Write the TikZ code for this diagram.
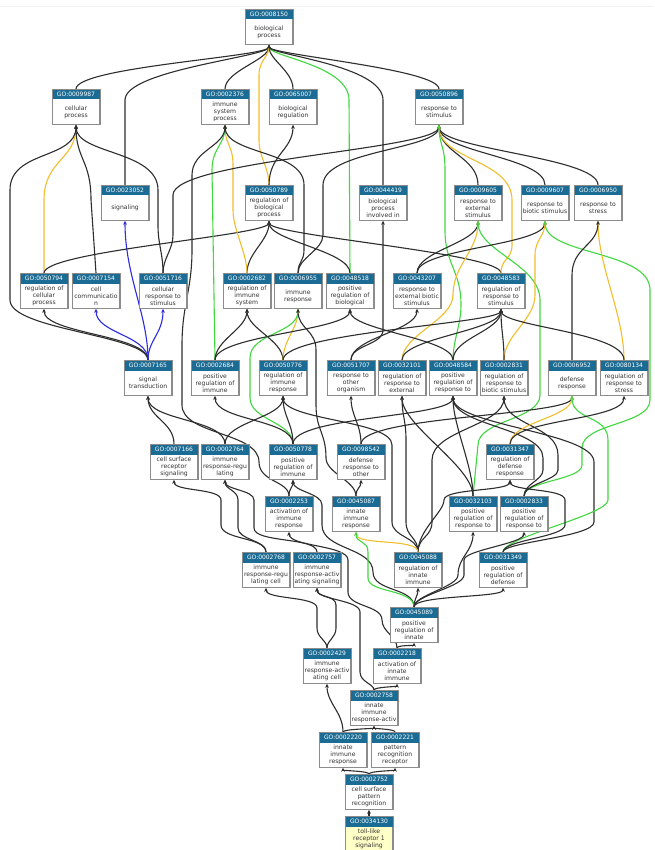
\documentclass[tikz,border=0pt]{standalone}
\usepackage{fontspec}
\newfontfamily\gofont{DejaVu Sans}
\usetikzlibrary{arrows.meta,calc}
\pgfdeclarelayer{paper}
\pgfdeclarelayer{edges}
\pgfsetlayers{paper,edges,main}
\definecolor{gohead}{HTML}{1B6C94}
\definecolor{gobord}{HTML}{8C8C8C}
\definecolor{isacol}{HTML}{2E2E2E}
\definecolor{regcol}{HTML}{F2BE2C}
\definecolor{pregcol}{HTML}{3FD83F}
\definecolor{partcol}{HTML}{2B2BE0}
\definecolor{leafcol}{HTML}{FFFFC8}
\definecolor{bodytext}{HTML}{333333}
\tikzset{
 gobox/.style={draw=gobord, line width=0.7pt, minimum width=47pt, minimum height=35pt, inner sep=0pt, anchor=north},
 gohtext/.style={text=white, font=\gofont\fontsize{6}{7}\selectfont, inner sep=0pt},
 gobtext/.style={text=bodytext, font=\gofont\fontsize{6.1}{7}\selectfont, align=center, inner sep=0pt},
 edgebase/.style={line width=1.1pt, -{Stealth[length=4pt,width=3.6pt]}},
 isa/.style={edgebase, draw=isacol},
 reg/.style={edgebase, draw=regcol},
 preg/.style={edgebase, draw=pregcol},
 partof/.style={edgebase, draw=partcol},
}
\newcommand{\gonode}[6][white]{%
 \node[gobox, fill=#1] (#2) at (#3,#4) {};
 \fill[gohead] (#2.north west) rectangle ($(#2.north east)+(0,10.5)$);
 \node[gohtext] (#2-id) at ($(#2.north)+(0,5.4)$) {#5};
 \node[gobtext] (#2-tx) at ($(#2.north)+(0,23)$) {#6};
 \draw[gobord, line width=0.7pt] (#2.north west) rectangle (#2.south east);
}
\begin{document}
\begin{tikzpicture}[x=1pt,y=-1pt]
\useasboundingbox (0,0) rectangle (654,850);
\begin{pgfonlayer}{paper}
\fill[white] (0,0) rectangle (654,850);
\draw[gray!10, line width=0.6pt] (0,6) -- (654,6);
\end{pgfonlayer}
% ---------------- nodes
\gonode{bp}{269}{9}{GO:0008150}{biological\\process}
\gonode{cp}{76}{89}{GO:0009987}{cellular\\process}
\gonode{isp}{225}{89}{GO:0002376}{immune\\system\\process}
\gonode{br}{293}{89}{GO:0065007}{biological\\regulation}
\gonode{rs}{439}{89}{GO:0050896}{response to\\stimulus}
\gonode{sig}{125}{185}{GO:0023052}{signaling}
\gonode{rbp}{269}{185}{GO:0050789}{regulation of\\biological\\process}
\gonode{bpi}{383}{185}{GO:0044419}{biological\\process\\involved in}
\gonode{res}{478}{185}{GO:0009605}{response to\\external\\stimulus}
\gonode{rbs}{545}{185}{GO:0009607}{response to\\biotic stimulus}
\gonode{rst}{598}{185}{GO:0006950}{response to\\stress}
\gonode{rcp}{44}{273}{GO:0050794}{regulation of\\cellular\\process}
\gonode{cc}{96}{273}{GO:0007154}{cell\\communicatio\\n}
\gonode{crs}{163}{273}{GO:0051716}{cellular\\response to\\stimulus}
\gonode{ris}{247}{273}{GO:0002682}{regulation of\\immune\\system}
\gonode{ir}{298}{273}{GO:0006955}{immune\\response}
\gonode{prb}{350}{273}{GO:0048518}{positive\\regulation of\\biological}
\gonode{rebs}{417}{273}{GO:0043207}{response to\\external biotic\\stimulus}
\gonode{rrs}{501}{273}{GO:0048583}{regulation of\\response to\\stimulus}
\gonode{st}{148}{360}{GO:0007165}{signal\\transduction}
\gonode{pris}{215}{360}{GO:0002684}{positive\\regulation of\\immune}
\gonode{rir}{283}{360}{GO:0050776}{regulation of\\immune\\response}
\gonode{roo}{351}{360}{GO:0051707}{response to\\other\\organism}
\gonode{rre}{402}{360}{GO:0032101}{regulation of\\response to\\external}
\gonode{prrs}{453}{360}{GO:0048584}{positive\\regulation of\\response to}
\gonode{rrbs}{504}{360}{GO:0002831}{regulation of\\response to\\biotic stimulus}
\gonode{dr}{572}{360}{GO:0006952}{defense\\response}
\gonode{rrst}{624}{360}{GO:0080134}{regulation of\\response to\\stress}
\gonode{csrs}{174}{444}{GO:0007166}{cell surface\\receptor\\signaling}
\gonode{irrs}{225}{444}{GO:0002764}{immune\\response-regu\\lating}
\gonode{pirr}{293}{444}{GO:0050778}{positive\\regulation of\\immune}
\gonode{dro}{361}{444}{GO:0098542}{defense\\response to\\other}
\gonode{rdr}{510}{444}{GO:0031347}{regulation of\\defense\\response}
\gonode{air}{289}{496}{GO:0002253}{activation of\\immune\\response}
\gonode{iir}{356}{496}{GO:0045087}{innate\\immune\\response}
\gonode{prre}{473}{496}{GO:0032103}{positive\\regulation of\\response to}
\gonode{prrbs}{524}{496}{GO:0002833}{positive\\regulation of\\response to}
\gonode{irrc}{266}{552}{GO:0002768}{immune\\response-regu\\lating cell}
\gonode{iras}{317}{552}{GO:0002757}{immune\\response-activ\\ating signaling}
\gonode{riir}{418}{552}{GO:0045088}{regulation of\\innate\\immune}
\gonode{prdr}{503}{552}{GO:0031349}{positive\\regulation of\\defense}
\gonode{priir}{414}{607}{GO:0045089}{positive\\regulation of\\innate}
\gonode{irac}{327}{648}{GO:0002429}{immune\\response-activ\\ating cell}
\gonode{aiir}{397}{648}{GO:0002218}{activation of\\innate\\immune}
\gonode{iira}{374}{690}{GO:0002758}{innate\\immune\\response-activ}
\gonode{iirtwo}{343}{732}{GO:0002220}{innate\\immune\\response}
\gonode{prr}{395}{732}{GO:0002221}{pattern\\recognition\\receptor}
\gonode{cspr}{369}{774}{GO:0002752}{cell surface\\pattern\\recognition}
\gonode[leafcol]{tlr}{369}{816}{GO:0034130}{toll-like\\receptor 1\\signaling}
% ---------------- edges
\begin{pgfonlayer}{edges}
% to bp
\draw[isa] (cp.north) .. controls +(0,-22) and +(0,12) .. (bp.south);
\draw[isa] (sig.north) -- (125,100) .. controls +(0,-30) and +(0,12) .. (bp.south);
\draw[isa] (isp.north) .. controls +(0,-18) and +(0,15) .. (bp.south);
\draw[reg] (rbp.north) .. controls +(0,-18) and +(0,18) .. (259,140) -- (259,75) .. controls +(0,-15) and +(0,12) .. (bp.south);
\draw[isa] (br.north) .. controls +(0,-18) and +(0,15) .. (bp.south);
\draw[preg] (prb.north) -- (349,100) .. controls +(0,-35) and +(0,12) .. (bp.south);
\draw[isa] (bpi.north) -- (383,100) .. controls +(0,-35) and +(0,10) .. (bp.south);
\draw[isa] (rs.north) .. controls +(0,-20) and +(0,10) .. (bp.south);
% to br
\draw[isa] (rbp.north) .. controls +(0,-30) and +(0,25) .. (br.south);
% to cp
\draw[reg] (rcp.north) -- (44,200) .. controls +(0,-40) and +(0,35) .. (cp.south);
\draw[isa] (cc.north) -- (91,200) .. controls +(0,-40) and +(0,35) .. (cp.south);
\draw[isa] (crs.north) .. controls +(0,-20) and +(0,20) .. (158,225) -- (158,190) .. controls +(0,-40) and +(0,30) .. (cp.south);
\draw[isa] (st.north) .. controls +(0,-25) and +(0,30) .. (10,300) -- (10,190) .. controls +(0,-40) and +(0,35) .. (cp.south);
% from st
\draw[partof] (st.north) .. controls +(0,-45) and +(0,55) .. (sig.south);
\draw[partof] (st.north) .. controls +(0,-25) and +(0,25) .. (cc.south);
\draw[partof] (st.north) .. controls +(0,-20) and +(0,25) .. (crs.south);
\draw[isa] (st.north) .. controls +(0,-25) and +(0,25) .. (rcp.south);
% to rbp
\draw[isa] (rcp.north) .. controls +(0,-22) and +(0,15) .. (rbp.south);
\draw[isa] (ris.north) .. controls +(0,-20) and +(0,20) .. (rbp.south);
\draw[isa] (prb.north) .. controls +(0,-22) and +(0,20) .. (rbp.south);
\draw[isa] (rrs.north) .. controls +(0,-20) and +(0,15) .. (rbp.south);
% to isp
\draw[reg] (ris.north) .. controls +(0,-20) and +(0,20) .. (233,210) -- (233,165) .. controls +(0,-20) and +(0,20) .. (isp.south);
\draw[preg] (pris.north) -- (212,170) .. controls +(0,-22) and +(0,20) .. (isp.south);
\draw[isa] (ir.north) .. controls +(0,-12) and +(0,12) .. (304,250) -- (304,185) .. controls +(0,-35) and +(0,30) .. (isp.south);
\draw[isa] (air.north) .. controls +(0,-15) and +(0,20) .. (259,462) .. controls +(0,-30) and +(0,30) .. (182,405) -- (182,345) .. controls +(0,-40) and +(0,40) .. (192,250) -- (192,175) .. controls +(0,-25) and +(0,22) .. (isp.south);
% to rs
\draw[isa] (crs.north) .. controls +(0,-15) and +(0,15) .. (173,235) -- (173,195) .. controls +(0,-35) and +(0,25) .. (rs.south);
\draw[isa] (ir.north) .. controls +(0,-15) and +(0,15) .. (323,235) -- (323,185) .. controls +(0,-35) and +(0,25) .. (rs.south);
\draw[isa] (res.north) .. controls +(0,-28) and +(0,28) .. (rs.south);
\draw[isa] (rbs.north) .. controls +(0,-28) and +(0,28) .. (rs.south);
\draw[isa] (rst.north) .. controls +(0,-28) and +(0,25) .. (rs.south);
\draw[reg] (rrs.north) .. controls +(0,-15) and +(0,15) .. (512,245) -- (512,200) .. controls +(0,-40) and +(0,35) .. (rs.south);
\draw[preg] (prrs.north) .. controls +(0,-20) and +(0,20) .. (461,305) .. controls +(0,-35) and +(0,35) .. (445,230) -- (445,170) .. controls +(0,-25) and +(0,20) .. (rs.south);
% to bpi
\draw[isa] (roo.north) .. controls +(0,-15) and +(0,15) .. (383,330) -- (bpi.south);
% to res
\draw[isa] (rebs.north) .. controls +(0,-22) and +(0,22) .. (res.south);
\draw[reg] (rre.north) .. controls +(0,-25) and +(0,25) .. (453,295) .. controls +(0,-30) and +(0,30) .. (res.south);
\draw[preg] (prre.north) -- (478,445) .. controls +(0,-25) and +(0,25) .. (540,395) -- (540,300) .. controls +(0,-35) and +(0,30) .. (res.south);
% to rbs
\draw[isa] (rebs.north) .. controls +(0,-25) and +(0,25) .. (rbs.south);
\draw[reg] (rrbs.north) .. controls +(0,-25) and +(0,25) .. (535,295) -- (535,255) .. controls +(0,-15) and +(0,15) .. (rbs.south);
\draw[preg] (prrbs.north) .. controls +(0,-15) and +(0,15) .. (582,465) -- (582,448) .. controls +(0,-25) and +(0,25) .. (650,400) -- (650,290) .. controls +(0,-40) and +(0,35) .. (rbs.south);
% to rst
\draw[reg] (rrst.north) .. controls +(0,-45) and +(0,45) .. (rst.south);
\draw[isa] (dr.north) -- (572,275) .. controls +(0,-28) and +(0,25) .. (rst.south);
% to ris
\draw[isa] (pris.north) .. controls +(0,-20) and +(0,20) .. (ris.south);
\draw[isa] (rir.north) .. controls +(0,-20) and +(0,20) .. (ris.south);
% to ir
\draw[reg] (rir.north) .. controls +(0,-20) and +(0,20) .. (ir.south);
\draw[preg] (pirr.north) .. controls +(0,-22) and +(0,22) .. (250,398) -- (250,358) .. controls +(0,-25) and +(0,25) .. (ir.south);
\draw[isa] (iir.north) .. controls +(0,-15) and +(0,15) .. (326,458) .. controls +(0,-25) and +(0,25) .. (316,405) -- (316,350) .. controls +(0,-20) and +(0,20) .. (ir.south);
% to prb
\draw[isa] (pris.north) .. controls +(0,-25) and +(0,22) .. (prb.south);
\draw[isa] (prrs.north) .. controls +(0,-22) and +(0,22) .. (prb.south);
% to rebs
\draw[isa] (roo.north) .. controls +(0,-22) and +(0,22) .. (rebs.south);
% to rrs
\draw[isa] (rir.north) .. controls +(0,-28) and +(0,15) .. (rrs.south);
\draw[isa] (rre.north) .. controls +(0,-22) and +(0,22) .. (rrs.south);
\draw[isa] (prrs.north) .. controls +(0,-22) and +(0,22) .. (rrs.south);
\draw[isa] (rrbs.north) .. controls +(0,-22) and +(0,22) .. (rrs.south);
\draw[isa] (rrst.north) .. controls +(0,-28) and +(0,18) .. (rrs.south);
% to st
\draw[isa] (csrs.north) .. controls +(0,-22) and +(0,22) .. (st.south);
\draw[isa] (irrs.north) .. controls +(0,-25) and +(0,25) .. (st.south);
% to pris
\draw[isa] (pirr.north) .. controls +(0,-25) and +(0,25) .. (pris.south);
% to rir
\draw[isa] (irrs.north) .. controls +(0,-22) and +(0,22) .. (rir.south);
\draw[isa] (pirr.north) .. controls +(0,-20) and +(0,20) .. (rir.south);
\draw[isa] (riir.north) .. controls +(0,-15) and +(0,15) .. (392,522) -- (392,445) .. controls +(0,-25) and +(0,25) .. (rir.south);
% to roo
\draw[isa] (dro.north) .. controls +(0,-20) and +(0,20) .. (roo.south);
% to rre
\draw[isa] (prre.north) .. controls +(0,-30) and +(0,30) .. (rre.south);
\draw[isa] (riir.north) .. controls +(0,-15) and +(0,15) .. (406,522) -- (406,440) .. controls +(0,-20) and +(0,20) .. (rre.south);
% to prrs
\draw[isa] (pirr.north) .. controls +(0,-28) and +(0,22) .. (prrs.south);
\draw[isa] (prre.north) .. controls +(0,-30) and +(0,30) .. (prrs.south);
\draw[isa] (prrbs.north) .. controls +(0,-12) and +(0,10) .. (543,470) -- (543,458) .. controls +(0,-30) and +(0,30) .. (prrs.south);
\draw[isa] (prdr.north) .. controls +(0,-10) and +(0,15) .. (594,522) -- (594,462) .. controls +(0,-30) and +(0,30) .. (prrs.south);
% to rrbs
\draw[isa] (prrbs.north) .. controls +(0,-12) and +(0,10) .. (558,470) -- (558,455) .. controls +(0,-30) and +(0,30) .. (rrbs.south);
\draw[isa] (riir.north) .. controls +(0,-15) and +(0,15) .. (432,522) -- (432,460) .. controls +(0,-30) and +(0,30) .. (rrbs.south);
% to dr
\draw[isa] (dro.north) .. controls +(0,-28) and +(0,20) .. (dr.south);
\draw[reg] (rdr.north) .. controls +(0,-22) and +(0,22) .. (dr.south);
\draw[preg] (prdr.north) .. controls +(0,-15) and +(0,15) .. (608,500) -- (608,440) .. controls +(0,-25) and +(0,25) .. (dr.south);
% to rrst
\draw[isa] (rdr.north) .. controls +(0,-25) and +(0,25) .. (rrst.south);
% to csrs, irrs
\draw[isa] (irrc.north) .. controls +(0,-15) and +(0,15) .. (221,525) -- (221,500) .. controls +(0,-12) and +(0,12) .. (csrs.south);
\draw[isa] (irrc.north) .. controls +(0,-12) and +(0,12) .. (238,528) -- (238,500) .. controls +(0,-10) and +(0,10) .. (irrs.south);
\draw[isa] (iras.north) .. controls +(0,-15) and +(0,15) .. (254,528) -- (254,500) .. controls +(0,-10) and +(0,10) .. (irrs.south);
% to pirr
\draw[isa] (air.north) .. controls +(0,-8) and +(0,8) .. (pirr.south);
\draw[isa] (priir.north) .. controls +(0,-20) and +(0,20) .. (373,572) .. controls +(0,-25) and +(0,25) .. (322,525) -- (322,505) .. controls +(0,-12) and +(0,12) .. (pirr.south);
% to dro
\draw[isa] (iir.north) .. controls +(0,-8) and +(0,8) .. (dro.south);
% to rdr
\draw[isa] (riir.north) .. controls +(0,-22) and +(0,12) .. (444,500) .. controls +(0,-12) and +(0,12) .. (rdr.south);
\draw[isa] (prdr.north) .. controls +(0,-12) and +(0,12) .. (565,525) -- (565,500) .. controls +(0,-12) and +(0,12) .. (rdr.south);
% to iir
\draw[reg] (riir.north) .. controls +(0,-14) and +(0,14) .. (iir.south);
\draw[preg] (priir.north) .. controls +(0,-18) and +(0,15) .. (368,578) -- (368,552) .. controls +(0,-12) and +(0,12) .. (iir.south);
% from priir
\draw[isa] (priir.north) .. controls +(0,-8) and +(0,8) .. (riir.south);
\draw[isa] (priir.north) .. controls +(0,-12) and +(0,10) .. (prdr.south);
\draw[isa] (priir.north) .. controls +(0,-12) and +(0,12) .. (458,575) .. controls +(0,-18) and +(0,20) .. (prre.south);
\draw[isa] (priir.north) .. controls +(0,-12) and +(0,12) .. (464,575) -- (464,560) .. controls +(0,-10) and +(0,12) .. (prrbs.south);
% lower chain
\draw[isa] (irac.north) .. controls +(0,-8) and +(0,10) .. (317,628) -- (317,608) .. controls +(0,-12) and +(0,12) .. (irrc.south);
\draw[isa] (irac.north) .. controls +(0,-8) and +(0,10) .. (336,628) -- (336,605) .. controls +(0,-10) and +(0,10) .. (iras.south);
\draw[isa] (aiir.north) .. controls +(0,-12) and +(0,12) .. (382,620) .. controls +(0,-15) and +(0,15) .. (348,592) -- (348,560) .. controls +(0,-15) and +(0,15) .. (air.south);
\draw[isa] (aiir.north) .. controls +(0,-3) and +(0,3) .. (priir.south);
\draw[isa] (iira.north) .. controls +(0,-3) and +(0,3) .. (aiir.south);
\draw[isa] (iira.north) .. controls +(0,-6) and +(0,10) .. (360,672) -- (360,612) .. controls +(0,-12) and +(0,12) .. (iras.south);
\draw[isa] (iirtwo.north) .. controls +(0,-20) and +(0,20) .. (irac.south);
\draw[isa] (iirtwo.north) .. controls +(0,-3) and +(0,3) .. (iira.south);
\draw[isa] (prr.north) .. controls +(0,-3) and +(0,3) .. (iira.south);
\draw[isa] (cspr.north) .. controls +(0,-3) and +(0,3) .. (iirtwo.south);
\draw[isa] (cspr.north) .. controls +(0,-3) and +(0,3) .. (prr.south);
\draw[isa] (tlr.north) -- (cspr.south);
\end{pgfonlayer}
\end{tikzpicture}
\end{document}
